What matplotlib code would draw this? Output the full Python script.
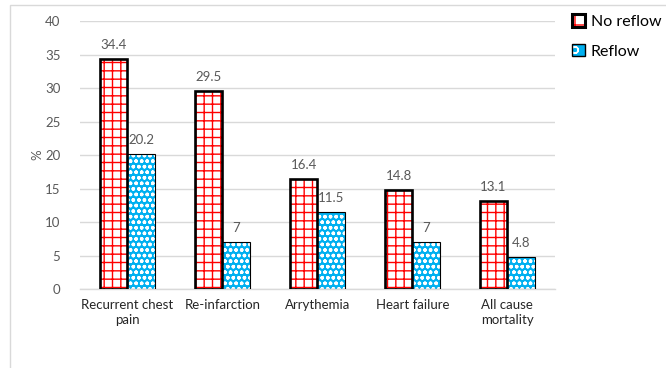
import numpy as np
import matplotlib.pyplot as plt
import matplotlib.patches as patches

plt.rcParams['font.family'] = ['Lato', 'DejaVu Sans']
plt.rcParams['hatch.linewidth'] = 1.0

categories = ['Recurrent chest\npain', 'Re-infarction', 'Arrythemia', 'Heart failure', 'All cause\nmortality']
no_reflow = [34.4, 29.5, 16.4, 14.8, 13.1]
reflow = [20.2, 7, 11.5, 7, 4.8]
series_names = ['No reflow', 'Reflow']

fig = plt.figure(figsize=(6.66, 3.68), dpi=100)
ax = fig.add_axes([0.12, 0.2147, 0.713, 0.728])

# light outer frame around the chart area
fig.patches.append(patches.Rectangle((10 / 666, -0.01), 1.0, 1 - 5 / 368 + 0.01, transform=fig.transFigure,
                                     fill=False, edgecolor='#d9d9d9', linewidth=1.0))

x = np.arange(len(categories))
w = 0.29
gray = '#595959'

# filled + hatched bars first, then plain black outlines on top
ax.bar(x - w / 2, no_reflow, w, color='white', edgecolor='#ff0000', hatch='++', linewidth=0, zorder=2)
ax.bar(x - w / 2, no_reflow, w, fill=False, edgecolor='black', linewidth=1.9, zorder=3)
ax.bar(x + w / 2, reflow, w, color='#00b0f0', edgecolor='white', hatch='ooo', linewidth=0, zorder=2)
ax.bar(x + w / 2, reflow, w, fill=False, edgecolor='black', linewidth=0.8, zorder=3)

for xi, v in zip(x - w / 2, no_reflow):
    ax.text(xi, v + 1.2, f'{v:g}', ha='center', va='bottom', fontsize=9.5, color=gray)
for xi, v in zip(x + w / 2, reflow):
    ax.text(xi, v + 1.2, f'{v:g}', ha='center', va='bottom', fontsize=9.5, color=gray)

ax.set_xlim(-0.5, len(categories) - 0.5)
ax.set_ylim(0, 40)
ax.set_yticks(np.arange(0, 41, 5))
ax.set_xticks(x)
ax.set_xticklabels(categories, fontsize=9.5, color='#262626', linespacing=1.3)
ax.tick_params(axis='both', length=0, labelsize=9.5)
ax.tick_params(axis='y', colors=gray, pad=14)
ax.tick_params(axis='x', pad=7)
ax.yaxis.grid(True, color='#d9d9d9', linewidth=1.0, zorder=0)
ax.set_axisbelow(True)
for s in ['top', 'right', 'left']:
    ax.spines[s].set_visible(False)
ax.spines['bottom'].set_color('#d9d9d9')
ax.spines['bottom'].set_linewidth(1.0)
ax.set_ylabel('%', color=gray, fontsize=9.5, labelpad=1)

# legend with small hatched squares
h1 = patches.Rectangle((0, 0), 1, 1, facecolor='white', edgecolor='#ff0000', hatch='+', linewidth=0)
h1b = patches.Rectangle((0, 0), 1, 1, fill=False, edgecolor='black', linewidth=2.2)
h2 = patches.Rectangle((0, 0), 1, 1, facecolor='#00b0f0', edgecolor='white', hatch='o', linewidth=0)
h2b = patches.Rectangle((0, 0), 1, 1, fill=False, edgecolor='black', linewidth=1.0)
fig.legend([(h1, h1b), (h2, h2b)], series_names, loc='upper left', bbox_to_anchor=(0.838, 1.0),
           frameon=False, fontsize=11.5, handlelength=0.8, handleheight=0.8, handletextpad=0.35,
           labelspacing=0.95)

fig.savefig('out.png', dpi=100)
